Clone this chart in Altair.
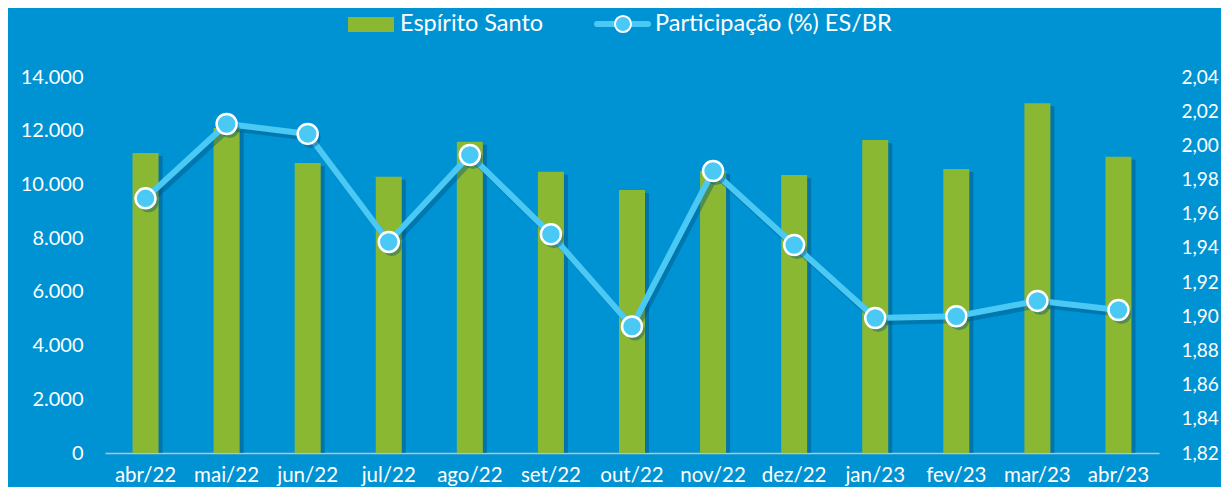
import altair as alt
import pandas as pd

months = ["abr/22", "mai/22", "jun/22", "jul/22", "ago/22", "set/22", "out/22",
          "nov/22", "dez/22", "jan/23", "fev/23", "mar/23", "abr/23"]
es_values = [11170, 12100, 10800, 10290, 11590, 10470, 9790,
             10500, 10350, 11650, 10570, 13020, 11030]
share_values = [1.969, 2.0125, 2.0067, 1.9435, 1.9944, 1.948, 1.894,
                1.985, 1.9417, 1.899, 1.900, 1.909, 1.9037]
left_ticks = [0, 2000, 4000, 6000, 8000, 10000, 12000, 14000]
right_ticks = [1.82, 1.84, 1.86, 1.88, 1.90, 1.92, 1.94, 1.96, 1.98, 2.00, 2.02, 2.04]
legend_labels = ["Espírito Santo", "Participação (%) ES/BR"]

BG = "#0093D3"
GREEN = "#8BB833"
LINE = "#4BC9F5"
SHADOW = "#00507A"
FONT = "Lato"

df = pd.DataFrame({"month": months, "es": es_values, "share": share_values})

x_enc = alt.X("month:N", sort=months, title=None,
              scale=alt.Scale(type="band", paddingInner=0, paddingOuter=0),
              axis=alt.Axis(labelAngle=0, labelPadding=12, domain=True, labelFontSize=20.5,
                            domainColor="#BFBFBF", domainWidth=1.5, ticks=False))

y_left = alt.Y("es:Q", title=None,
               scale=alt.Scale(domain=[0, 14000], nice=False),
               axis=alt.Axis(values=left_ticks, labelPadding=22,
                             labelExpr="replace(format(datum.value, ',.0f'), ',', '.')"))
y_right = alt.Y("share:Q", title=None,
                scale=alt.Scale(domain=[1.82, 2.04], nice=False, zero=False),
                axis=alt.Axis(values=right_ticks, orient="right", labelPadding=22,
                              labelAlign="left", labelFontSize=19,
                              labelExpr="replace(format(datum.value, '.2f'), '.', ',')"))

base = alt.Chart(df)

bar_shadow = base.mark_bar(size=26, color=SHADOW, opacity=0.45, xOffset=4, yOffset=3,
                           clip=True).encode(x=x_enc, y=y_left)
bars = base.mark_bar(size=26, color=GREEN).encode(x=x_enc, y=y_left)

line_shadow = base.mark_line(color=SHADOW, opacity=0.4, strokeWidth=6,
                             xOffset=3, yOffset=4).encode(x=x_enc, y=y_right)
line = base.mark_line(color=LINE, strokeWidth=6).encode(x=x_enc, y=y_right)
pts_shadow = base.mark_circle(size=400, color=SHADOW, opacity=0.4,
                              xOffset=3, yOffset=4).encode(x=x_enc, y=y_right)
pts = base.mark_point(size=400, filled=True, fill=LINE, stroke="white",
                      strokeWidth=2.5, opacity=1).encode(x=x_enc, y=y_right)

left = alt.layer(bar_shadow, bars)
right = alt.layer(line_shadow, line, pts_shadow, pts)

# legend (drawn above the plot area)
leg1 = pd.DataFrame({"label": [legend_labels[0]]})
leg2 = pd.DataFrame({"label": [legend_labels[1]]})
leg_rect = alt.Chart(leg1).mark_rect(color=GREEN).encode(
    x=alt.value(243), x2=alt.value(289), y=alt.value(-60), y2=alt.value(-45))
leg_text1 = alt.Chart(leg1).mark_text(align="left", baseline="middle", font=FONT,
                                      fontSize=23.5, color="white").encode(
    x=alt.value(295), y=alt.value(-53), text="label:N")
leg_line = alt.Chart(leg2).mark_rule(color=LINE, strokeWidth=6, strokeCap="round").encode(
    x=alt.value(492), x2=alt.value(543), y=alt.value(-53))
leg_pt = alt.Chart(leg2).mark_point(size=260, filled=True, fill=LINE, stroke="white",
                                    strokeWidth=2, opacity=1).encode(
    x=alt.value(518), y=alt.value(-53))
leg_text2 = alt.Chart(leg2).mark_text(align="left", baseline="middle", font=FONT,
                                      fontSize=23.5, color="white").encode(
    x=alt.value(550), y=alt.value(-53), text="label:N")

chart = alt.layer(left, right, leg_rect, leg_text1, leg_line, leg_pt, leg_text2).resolve_scale(
    y="independent"
).properties(
    width=1054, height=376,
    autosize=alt.AutoSizeParams(type="none"),
    padding={"left": 97, "top": 69, "right": 62, "bottom": 34},
    background=BG,
).configure_view(strokeWidth=0).configure_axis(
    grid=False, ticks=False, domain=False, labelColor="white", labelFont=FONT,
    labelFontSize=20
).configure_axisX(domain=True, domainColor="#BFBFBF", domainWidth=1.5)

chart.save("out.html", embed_options={"renderer": "svg", "actions": False})
